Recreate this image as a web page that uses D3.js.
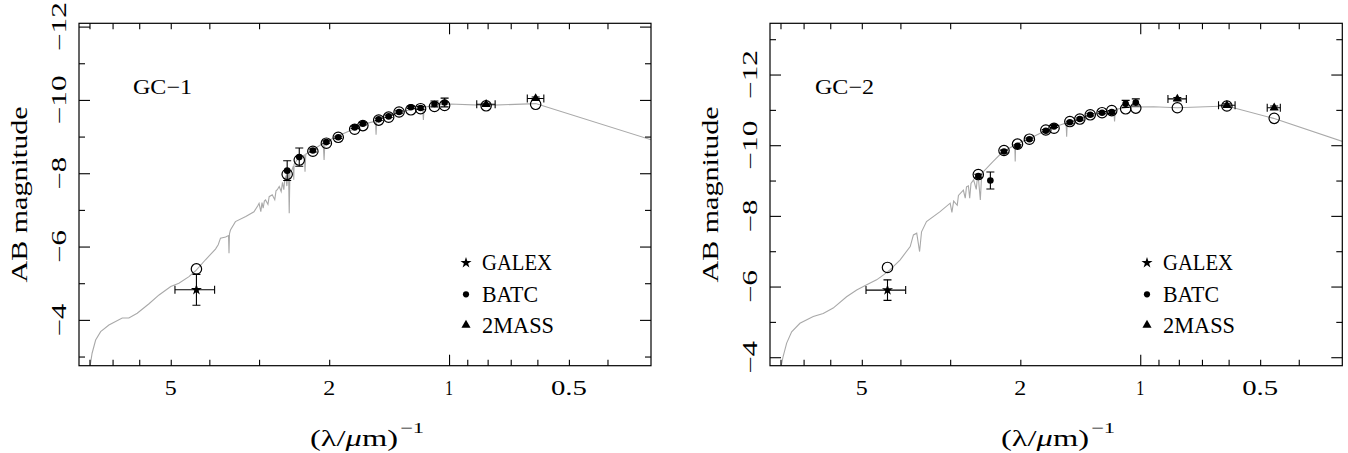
<!DOCTYPE html>
<html><head><meta charset="utf-8">
<script src="https://cdn.jsdelivr.net/npm/d3@7"></script>
<style>
body{margin:0;background:#fff;}
svg{display:block;}
text{font-family:"Liberation Serif","Times New Roman",serif;fill:#000;}
</style>
</head><body>
<svg id="c" width="1348" height="453"></svg>
<script>
// ---------- data ----------
const panelNames = ["GC−1", "GC−2"];
const legendLabels = ["GALEX", "BATC", "2MASS"];
const xTicksMinor = [8, 7, 6, 5, 4, 3, 2, 0.9, 0.8, 0.7, 0.6, 0.5, 0.4];
const xTicksMajor = [1];
const xTickLabels = [5, 2, 1, 0.5];
const yMajor1 = [-12, -10, -8, -6, -4];
const yMinor1 = [-11, -9, -7, -5, -3];
const yMajor2 = [-12, -10, -8, -6, -4];
const yMinor2 = [-13, -11, -9, -7, -5];

// BATC filters b..p, in 1/micron
const batcWave = [2.550, 2.378, 2.198, 2.033, 1.898, 1.726, 1.646, 1.502, 1.418, 1.335, 1.247, 1.179, 1.088, 1.026];
// GALEX NUV
const galexWave = [4.31];
const galexLo = [4.88];
const galexHi = [3.88];
// 2MASS J H Ks
const tmassWave = [0.807, 0.606, 0.461];
const tmassLo = [0.852, 0.636, 0.480];
const tmassHi = [0.766, 0.578, 0.445];

// GC-1
const gc1BatcObs = [-8.07, -8.44, -8.62, -8.85, -8.98, -9.25, -9.35, -9.47, -9.55, -9.67, -9.80, -9.78, -9.89, -9.93];
const gc1BatcErr = [0.27, 0.25, 0.04, 0.03, 0.03, 0.03, 0.03, 0.03, 0.03, 0.03, 0.03, 0.04, 0.08, 0.12];
const gc1BatcModel = [-7.97, -8.36, -8.60, -8.82, -8.98, -9.20, -9.30, -9.45, -9.53, -9.67, -9.73, -9.76, -9.82, -9.85];
const gc1GalexObs = [-4.82];
const gc1GalexErr = [0.42];
const gc1GalexModel = [-5.39];
const gc1TmassObs = [-9.88, -10.04];
const gc1TmassErr = [0.03, 0.04];
const gc1TmassModel = [-9.84, -9.88];
const gc1SpecWave = [8.05, 7.95, 7.88, 7.72, 7.50, 7.15, 6.62, 6.37, 6.07, 5.67, 5.35, 5.00, 4.77, 4.50, 4.33, 4.09, 3.86, 3.80, 3.75, 3.64, 3.58, 3.57, 3.56, 3.54, 3.44, 3.24, 3.09, 3.02, 3.00, 2.97, 2.95, 2.93, 2.91, 2.89, 2.85, 2.83, 2.78, 2.74, 2.72, 2.70, 2.67, 2.64, 2.62, 2.60, 2.585, 2.57, 2.555, 2.54, 2.53, 2.52, 2.51, 2.48, 2.46, 2.455, 2.45, 2.41, 2.31, 2.30, 2.29, 2.235, 2.07, 2.06, 2.05, 1.915, 1.74, 1.61, 1.53, 1.525, 1.52, 1.49, 1.353, 1.253, 1.165, 1.16, 1.155, 1.074, 0.994, 0.807, 0.606, 0.30];
const gc1SpecMag = [-2.40, -2.82, -3.09, -3.45, -3.68, -3.86, -4.05, -4.05, -4.18, -4.44, -4.68, -4.91, -5.00, -5.18, -5.34, -5.64, -5.93, -6.05, -6.23, -6.26, -6.30, -5.82, -6.35, -6.45, -6.68, -6.82, -6.95, -7.12, -7.18, -6.95, -7.20, -7.05, -7.24, -7.27, -7.15, -7.36, -7.41, -7.28, -7.52, -7.55, -7.64, -7.50, -7.75, -7.55, -7.85, -7.91, -7.65, -7.97, -8.00, -6.91, -8.02, -8.09, -8.20, -7.82, -8.25, -8.36, -8.50, -8.04, -8.52, -8.59, -8.82, -8.36, -8.84, -9.00, -9.20, -9.36, -9.42, -9.05, -9.44, -9.47, -9.64, -9.73, -9.79, -9.45, -9.80, -9.86, -9.89, -9.85, -9.90, -8.86];

// GC-2
const gc2BatcObs = [-9.13, -9.00, -9.82, -9.98, -10.17, -10.41, -10.53, -10.65, -10.74, -10.86, -10.92, -10.94, -11.17, -11.21];
const gc2BatcErr = [0.05, 0.24, 0.04, 0.03, 0.03, 0.03, 0.03, 0.03, 0.03, 0.03, 0.03, 0.04, 0.10, 0.10];
const gc2BatcModel = [-9.17, null, -9.85, -10.03, -10.17, -10.43, -10.48, -10.67, -10.74, -10.86, -10.92, -10.98, -11.03, -11.05];
const gc2GalexObs = [-5.90];
const gc2GalexErr = [0.29];
const gc2GalexModel = [-6.54];
const gc2TmassObs = [-11.31, -11.13, -11.06];
const gc2TmassErr = [0.04, 0.04, 0.05];
const gc2TmassModel = [-11.06, -11.11, -10.76];
const gc2SpecWave = [8.05, 7.88, 7.72, 7.50, 7.15, 6.62, 6.25, 5.90, 5.46, 5.15, 4.86, 4.59, 4.41, 4.25, 4.01, 3.78, 3.71, 3.64, 3.58, 3.54, 3.44, 3.18, 3.00, 2.97, 2.94, 2.88, 2.86, 2.78, 2.75, 2.73, 2.70, 2.68, 2.66, 2.62, 2.58, 2.565, 2.55, 2.52, 2.50, 2.34, 2.21, 2.065, 2.06, 2.055, 2.04, 1.89, 1.716, 1.589, 1.535, 1.53, 1.525, 1.47, 1.335, 1.236, 1.165, 1.16, 1.155, 1.144, 1.06, 0.926, 0.807, 0.606, 0.463, 0.30];
const gc2SpecMag = [-3.50, -4.02, -4.40, -4.72, -4.96, -5.15, -5.24, -5.39, -5.71, -5.90, -6.05, -6.19, -6.33, -6.47, -6.75, -7.13, -7.46, -7.51, -6.99, -7.55, -7.84, -8.12, -8.36, -8.10, -8.42, -8.30, -8.58, -8.73, -8.50, -8.82, -8.85, -8.50, -8.92, -9.02, -8.75, -9.06, -9.10, -8.45, -9.20, -9.54, -9.82, -10.00, -9.54, -10.01, -10.04, -10.20, -10.43, -10.57, -10.63, -10.24, -10.65, -10.70, -10.86, -10.94, -11.00, -10.67, -11.01, -11.02, -11.08, -11.09, -11.06, -11.11, -10.76, -10.05];

// ---------- layout ----------
const TOP = 23.3, BOTTOM = 365.7;
const panels = [
  {name: panelNames[0], x0: 79, x1: 651, yDom: [-12.09, -2.75], yMajor: yMajor1, yMinor: yMinor1,
   specW: gc1SpecWave, specM: gc1SpecMag,
   bObs: gc1BatcObs, bErr: gc1BatcErr, bMod: gc1BatcModel,
   gObs: gc1GalexObs, gErr: gc1GalexErr, gMod: gc1GalexModel,
   tObs: gc1TmassObs, tErr: gc1TmassErr, tMod: gc1TmassModel,
   nameDx: 54, legDx: 387},
  {name: panelNames[1], x0: 770, x1: 1342.3, yDom: [-13.45, -3.76], yMajor: yMajor2, yMinor: yMinor2,
   specW: gc2SpecWave, specM: gc2SpecMag,
   bObs: gc2BatcObs, bErr: gc2BatcErr, bMod: gc2BatcModel,
   gObs: gc2GalexObs, gErr: gc2GalexErr, gMod: gc2GalexModel,
   tObs: gc2TmassObs, tErr: gc2TmassErr, tMod: gc2TmassModel,
   nameDx: 45, legDx: 377}
];

const svg = d3.select("#c");
const fmt = v => v < 0 ? "−" + Math.abs(v) : String(v);
const STROKE = "#000";

panels.forEach((p, pi) => {
  const x = d3.scaleLog().domain([8.5, 0.311]).range([p.x0, p.x1]);
  const y = d3.scaleLinear().domain(p.yDom).range([TOP, BOTTOM]);
  const g = svg.append("g");
  const clipId = "clip" + pi;
  svg.append("clipPath").attr("id", clipId).append("rect")
    .attr("x", p.x0).attr("y", TOP).attr("width", p.x1 - p.x0).attr("height", BOTTOM - TOP);

  // spectrum
  const specData = p.specW.map((w, i) => [w, p.specM[i]]);
  g.append("path").datum(specData)
    .attr("clip-path", `url(#${clipId})`)
    .attr("fill", "none").attr("stroke", "#a9a9a9").attr("stroke-width", 1.1)
    .attr("d", d3.line().x(d => x(d[0])).y(d => y(d[1])));

  // axes ticks
  const styleAxis = sel => { sel.select(".domain").remove(); sel.selectAll("line").attr("stroke", STROKE).attr("stroke-width", 1.1); sel.selectAll("text").remove(); };
  const inRange = v => y(v) > TOP && y(v) < BOTTOM;
  g.append("g").attr("transform", `translate(0,${BOTTOM})`).call(d3.axisBottom(x).tickValues(xTicksMinor).tickSize(-6)).call(styleAxis);
  g.append("g").attr("transform", `translate(0,${BOTTOM})`).call(d3.axisBottom(x).tickValues(xTicksMajor).tickSize(-11)).call(styleAxis);
  g.append("g").attr("transform", `translate(0,${TOP})`).call(d3.axisTop(x).tickValues(xTicksMinor).tickSize(-6)).call(styleAxis);
  g.append("g").attr("transform", `translate(0,${TOP})`).call(d3.axisTop(x).tickValues(xTicksMajor).tickSize(-11)).call(styleAxis);
  g.append("g").attr("transform", `translate(${p.x0},0)`).call(d3.axisLeft(y).tickValues(p.yMajor).tickSize(-11)).call(styleAxis);
  g.append("g").attr("transform", `translate(${p.x0},0)`).call(d3.axisLeft(y).tickValues(p.yMinor.filter(inRange)).tickSize(-6)).call(styleAxis);
  g.append("g").attr("transform", `translate(${p.x1},0)`).call(d3.axisRight(y).tickValues(p.yMajor).tickSize(-11)).call(styleAxis);
  g.append("g").attr("transform", `translate(${p.x1},0)`).call(d3.axisRight(y).tickValues(p.yMinor.filter(inRange)).tickSize(-6)).call(styleAxis);

  // frame
  g.append("rect").attr("x", p.x0).attr("y", TOP).attr("width", p.x1 - p.x0).attr("height", BOTTOM - TOP)
    .attr("fill", "none").attr("stroke", STROKE).attr("stroke-width", 1.2);

  // tick labels
  g.selectAll(".xl").data(xTickLabels).enter().append("text")
    .attr("x", d => x(d)).attr("y", 395).attr("text-anchor", "middle")
    .attr("font-size", 20)
    .attr("textLength", d => String(d).length > 1 ? 36 : (d === 1 ? 8 : 12))
    .attr("lengthAdjust", "spacingAndGlyphs")
    .text(d => String(d));
  g.selectAll(".yl").data(p.yMajor).enter().append("text")
    .attr("transform", d => `translate(${p.x0 - 13},${y(d)}) rotate(-90)`)
    .attr("text-anchor", "middle").attr("font-size", 20)
    .attr("textLength", d => fmt(d).length * 16.3).attr("lengthAdjust", "spacingAndGlyphs")
    .text(fmt);

  // axis titles
  g.append("text").attr("transform", `translate(${p.x0 - 52.5},${(TOP + BOTTOM) / 2}) rotate(-90)`)
    .attr("text-anchor", "middle").attr("font-size", 23)
    .attr("textLength", 176).attr("lengthAdjust", "spacingAndGlyphs")
    .text("AB magnitude");
  const xt = g.append("text").attr("x", p.x0 + 231).attr("y", 446).attr("font-size", 23)
    .attr("textLength", 88).attr("lengthAdjust", "spacingAndGlyphs");
  xt.append("tspan").text("(λ/");
  xt.append("tspan").text("μ").attr("font-style", "italic");
  xt.append("tspan").text("m)");
  g.append("text").attr("x", p.x0 + 321).attr("y", 433).attr("font-size", 15)
    .attr("textLength", 24).attr("lengthAdjust", "spacingAndGlyphs").text("−1");

  // panel name
  g.append("text").attr("x", p.x0 + p.nameDx).attr("y", 93.5).attr("font-size", 21)
    .attr("textLength", 59).attr("lengthAdjust", "spacingAndGlyphs").text(p.name);

  const data = g.append("g").attr("clip-path", `url(#${clipId})`);
  const cap = 4;

  // model open circles
  const models = [];
  batcWave.forEach((w, i) => { if (p.bMod[i] != null) models.push([w, p.bMod[i]]); });
  galexWave.forEach((w, i) => models.push([w, p.gMod[i]]));
  p.tObs.forEach((_, i) => models.push([tmassWave[i], p.tMod[i]]));
  data.selectAll(".mod").data(models).enter().append("circle")
    .attr("cx", d => x(d[0])).attr("cy", d => y(d[1])).attr("r", 5.2)
    .attr("fill", "none").attr("stroke", STROKE).attr("stroke-width", 1.2);

  // error bars helper
  const vbar = (w, m, e) => {
    const cx = x(w), ya = y(m - e), yb = y(m + e);
    data.append("line").attr("x1", cx).attr("x2", cx).attr("y1", ya).attr("y2", yb).attr("stroke", STROKE).attr("stroke-width", 1.1);
    [ya, yb].forEach(yy => data.append("line").attr("x1", cx - cap).attr("x2", cx + cap).attr("y1", yy).attr("y2", yy).attr("stroke", STROKE).attr("stroke-width", 1.1));
  };
  const hbar = (lo, hi, m) => {
    const xa = x(lo), xb = x(hi), cy = y(m);
    data.append("line").attr("x1", xa).attr("x2", xb).attr("y1", cy).attr("y2", cy).attr("stroke", STROKE).attr("stroke-width", 1.1);
    [xa, xb].forEach(xx => data.append("line").attr("x1", xx).attr("x2", xx).attr("y1", cy - cap).attr("y2", cy + cap).attr("stroke", STROKE).attr("stroke-width", 1.1));
  };

  // BATC
  batcWave.forEach((w, i) => vbar(w, p.bObs[i], p.bErr[i]));
  data.selectAll(".batc").data(batcWave.map((w, i) => [w, p.bObs[i]])).enter().append("circle")
    .attr("cx", d => x(d[0])).attr("cy", d => y(d[1])).attr("r", 3.3).attr("fill", "#000");

  // GALEX
  galexWave.forEach((w, i) => { vbar(w, p.gObs[i], p.gErr[i]); hbar(galexLo[i], galexHi[i], p.gObs[i]); });
  data.selectAll(".gal").data(galexWave.map((w, i) => [w, p.gObs[i]])).enter().append("path")
    .attr("transform", d => `translate(${x(d[0])},${y(d[1])})`)
    .attr("d", d3.symbol().type(d3.symbolStar).size(38)).attr("fill", "#000");

  // 2MASS
  p.tObs.forEach((m, i) => { vbar(tmassWave[i], m, p.tErr[i]); hbar(tmassLo[i], tmassHi[i], m); });
  data.selectAll(".tm").data(p.tObs.map((m, i) => [tmassWave[i], m])).enter().append("path")
    .attr("transform", d => `translate(${x(d[0])},${y(d[1])})`)
    .attr("d", d3.symbol().type(d3.symbolTriangle).size(36)).attr("fill", "#000");

  // legend
  const legY = [262.7, 294.3, 325];
  const legTypes = [d3.symbolStar, d3.symbolCircle, d3.symbolTriangle];
  const legSizes = [38, 30, 36];
  const legLen = [70, 56, 72];
  legendLabels.forEach((lab, i) => {
    g.append("path").attr("transform", `translate(${p.x0 + p.legDx},${legY[i]})`)
      .attr("d", d3.symbol().type(legTypes[i]).size(legSizes[i])).attr("fill", "#000");
    g.append("text").attr("x", p.x0 + p.legDx + 16).attr("y", legY[i] + 7.7)
      .attr("font-size", 23).attr("textLength", legLen[i]).attr("lengthAdjust", "spacingAndGlyphs").text(lab);
  });
});
</script>
</body></html>
